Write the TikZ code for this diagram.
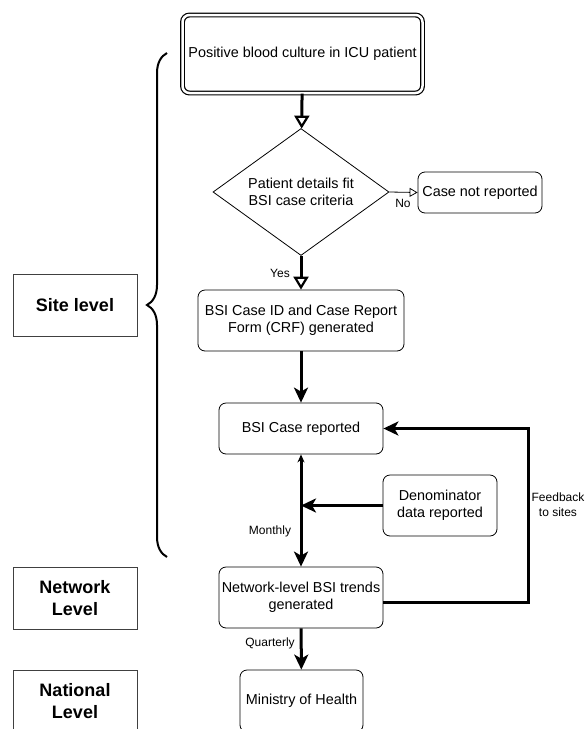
\documentclass[tikz,border=0pt]{standalone}
\usepackage{fontspec}
\setmainfont{Liberation Sans}
\usetikzlibrary{shapes.geometric, arrows.meta, decorations.pathreplacing}

\begin{document}
\begin{tikzpicture}[x=1pt, y=-1pt,
    box/.style={draw, rounded corners=7pt, line width=0.8pt, align=center, inner sep=0pt, font=\fontsize{14.4}{17.5}\selectfont},
    lvl/.style={draw=black!75, line width=0.8pt, align=center, inner sep=0pt, minimum width=124pt, minimum height=62pt, font=\fontsize{18}{22.5}\selectfont\bfseries},
    lbl/.style={inner sep=0pt, align=center, font=\fontsize{12}{15}\selectfont},
    flow/.style={line width=3pt, -{Stealth[length=15pt, width=14pt, inset=4pt]}},
    test/.style={line width=3pt, -{Triangle[open, length=13pt, width=15pt, line width=2.2pt]}}]
    \useasboundingbox (0,0) rectangle (587,729);
    \clip (0,0) rectangle (587,729);
    \node[box, double, double distance=2.5pt, line width=1.2pt, minimum width=240pt, minimum height=78pt] (pos) at (302.5,54) {Positive blood culture in ICU patient};
    \node[draw, diamond, line width=0.8pt, inner sep=0pt, aspect=1.39, minimum width=176pt, minimum height=127pt, align=center, font=\fontsize{14.4}{17.5}\selectfont] (dia) at (301,192) {Patient details fit\\BSI case criteria};
    \node[box, minimum width=124pt, minimum height=41pt] (notrep) at (480,192.5) {Case not reported};
    \node[box, minimum width=206pt, minimum height=61pt] (crf) at (301,320.5) {BSI Case ID and Case Report\\Form (CRF) generated};
    \node[box, minimum width=164pt, minimum height=51pt] (rep) at (301,428.5) {BSI Case reported};
    \node[box, minimum width=114pt, minimum height=61pt] (den) at (440,505.5) {Denominator\\data reported};
    \node[box, minimum width=164pt, minimum height=61pt] (net) at (301,597.5) {Network-level BSI trends\\generated};
    \node[box, minimum width=123pt, minimum height=62pt] (moh) at (301.5,701) {Ministry of Health};
    \node[lvl] (site) at (75,305) {Site level};
    \node[lvl] (netlvl) at (75,598) {Network\\Level};
    \node[lvl] (natl) at (75,701) {National\\Level};
    \coordinate (btop) at (167,53);
    \coordinate (bbot) at (167,557);
    \draw[line width=2pt, decorate, decoration={brace, amplitude=20pt}] (bbot) -- (btop);
    \draw[test] (pos) -- (dia);
    \draw[line width=0.8pt, -{Triangle[open, length=8pt, width=9pt, line width=0.8pt]}] (dia.east) -- (notrep.west);
    \node[lbl] (no) at (403,203) {No};
    \draw[test] (dia) -- (crf);
    \node[lbl] (yes) at (280,273) {Yes};
    \draw[flow] (crf) -- (rep);
    \draw[line width=3pt, {Stealth[length=8pt, width=7pt]}-{Stealth[length=15pt, width=14pt, inset=4pt]}] (rep) -- (net);
    \coordinate (join) at (rep.south |- den.west);
    \draw[flow] (den.west) -- (join);
    \node[lbl] (monthly) at (270,531) {Monthly};
    \coordinate (fb) at (528,505);
    \draw[flow] ([yshift=-5pt]net.east) -| (fb) |- (rep.east);
    \node[lbl] (fbtext) at (558,505) {Feedback\\to sites};
    \draw[flow] (net) -- (moh);
    \node[lbl] (quart) at (270,643) {Quarterly};
\end{tikzpicture}
\end{document}
